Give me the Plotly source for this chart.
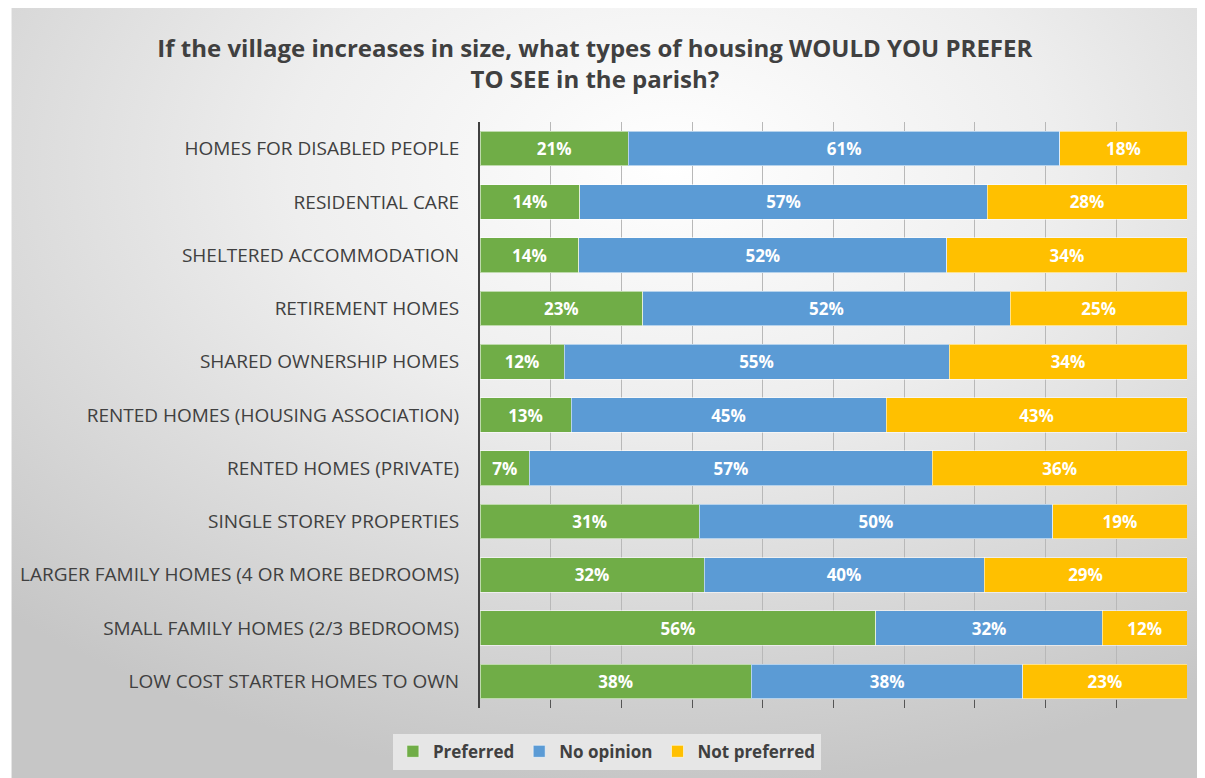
import plotly.graph_objects as go
import urllib.parse

categories = [
    "HOMES FOR DISABLED PEOPLE",
    "RESIDENTIAL CARE",
    "SHELTERED ACCOMMODATION",
    "RETIREMENT HOMES",
    "SHARED OWNERSHIP HOMES",
    "RENTED HOMES (HOUSING ASSOCIATION)",
    "RENTED HOMES (PRIVATE)",
    "SINGLE STOREY PROPERTIES",
    "LARGER FAMILY HOMES (4 OR MORE BEDROOMS)",
    "SMALL FAMILY HOMES (2/3 BEDROOMS)",
    "LOW COST STARTER HOMES TO OWN",
]
preferred = [21, 14, 14, 23, 12, 13, 7, 31, 32, 56, 38]
no_opinion = [61, 57, 52, 52, 55, 45, 57, 50, 40, 32, 38]
not_preferred = [18, 28, 34, 25, 34, 43, 36, 19, 29, 12, 23]

series = [
    ("Preferred", preferred, "#70ad47"),
    ("No opinion", no_opinion, "#5b9bd5"),
    ("Not preferred", not_preferred, "#ffc000"),
]

W, H = 1205, 778
L, R, T, B = 470, 26, 114, 78
pw, ph = W - L - R, H - T - B

fig = go.Figure()
for name, vals, color in series:
    fig.add_trace(go.Bar(
        y=categories, x=vals, name=name, orientation="h",
        marker=dict(color=color, line=dict(color="rgba(255,255,255,0.55)", width=1)),
        text=[f"{v}%" for v in vals],
        textposition="inside", insidetextanchor="middle",
        textfont=dict(family="Open Sans", size=17, color="white", weight="bold"),
        hoverinfo="skip",
    ))

svg = (
    f'<svg xmlns="http://www.w3.org/2000/svg" width="{W}" height="{H}">'
    '<defs><radialGradient id="g" cx="55%" cy="20%" r="80%">'
    '<stop offset="0%" stop-color="#ffffff"/>'
    '<stop offset="40%" stop-color="#eeeeee"/>'
    '<stop offset="100%" stop-color="#c6c6c6"/>'
    '</radialGradient></defs>'
    f'<rect x="0" y="0" width="{W}" height="{H}" fill="url(#g)"/></svg>'
)
src = "data:image/svg+xml;charset=utf-8," + urllib.parse.quote(svg)

x0 = -L / pw
x1 = (W - L) / pw
ytop = 1 + T / ph
ybot = -B / ph

fig.add_layout_image(dict(
    source=src, xref="paper", yref="paper",
    x=x0, y=ytop, sizex=x1 - x0, sizey=ytop - ybot,
    xanchor="left", yanchor="top", sizing="stretch", layer="below",
))

fig.update_layout(
    width=W, height=H,
    margin=dict(l=L, r=R, t=T, b=B),
    paper_bgcolor="white", plot_bgcolor="rgba(0,0,0,0)",
    barmode="stack", barnorm="percent", bargap=0.35,
    title=dict(
        text="If the village increases in size, what types of housing <b>WOULD YOU PREFER</b><br><b>TO SEE</b> in the parish?",
        x=0.487, xanchor="center", y=0.937, yanchor="middle",
        font=dict(family="Open Sans", size=24, color="#404040", weight="bold"),
    ),
    xaxis=dict(
        range=[0, 100], dtick=10, showticklabels=False,
        showgrid=True, gridcolor="#b8b8b8", gridwidth=1,
        ticks="inside", ticklen=8, tickcolor="#555555",
        showline=False, zeroline=False, fixedrange=True,
    ),
    yaxis=dict(
        autorange="reversed", showline=True, linecolor="#404040", linewidth=2,
        ticks="", tickfont=dict(family="Open Sans", size=19, color="#404040"),
        ticklabelstandoff=15,
    ),
    legend=dict(
        orientation="h", xref="container", yref="container",
        x=0.497, xanchor="center", y=0.044, yanchor="middle",
        bgcolor="#e6e6e6", borderwidth=0,
        font=dict(family="Open Sans", size=17, color="#404040", weight="bold"),
        itemwidth=30, traceorder="normal",
    ),
    showlegend=True,
)

fig.write_html("out.html")
